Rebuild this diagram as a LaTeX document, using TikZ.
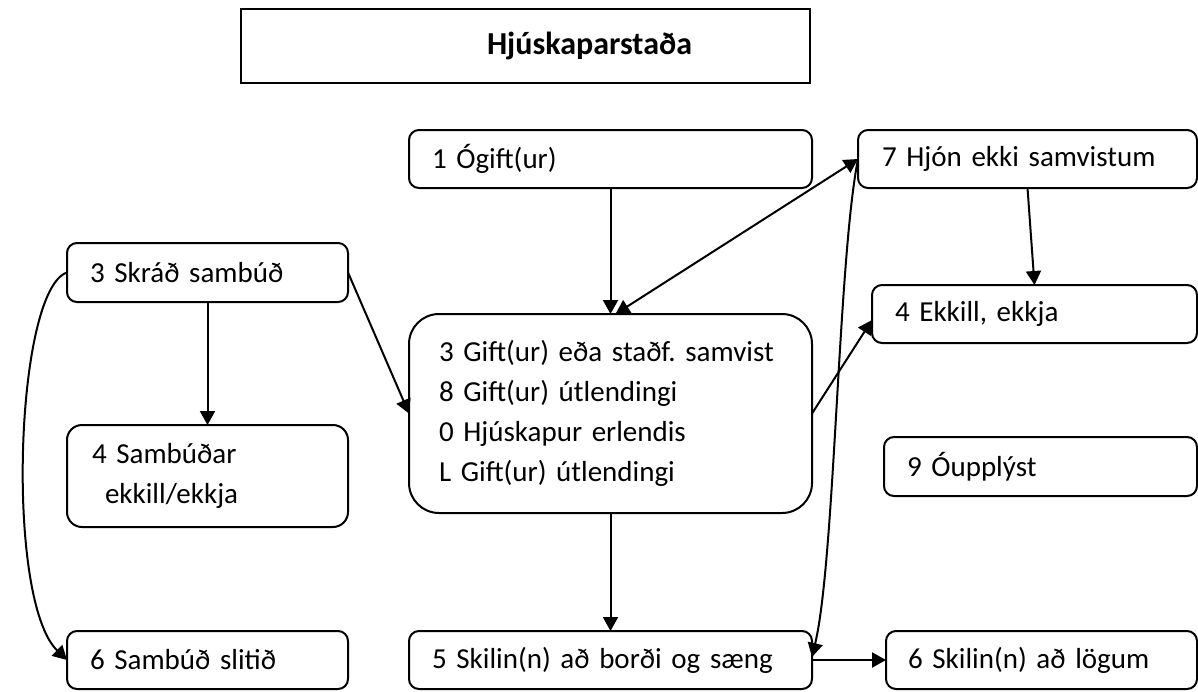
\documentclass[tikz,border=0pt]{standalone}
\usepackage{fontspec}
\setmainfont{Carlito}
\usetikzlibrary{arrows.meta,calc}
\frenchspacing
\begin{document}
\begin{tikzpicture}[x=1pt,y=-1pt,
  box/.style={draw, line width=2pt, rounded corners=10pt, anchor=north west,
    outer sep=0pt, inner ysep=0pt, align=left, font=\fontsize{29}{40}\selectfont},
  arr/.style={line width=2pt, -{Triangle[length=14pt,width=15pt]}},
  darr/.style={line width=2pt, {Triangle[length=14pt,width=15pt]}-{Triangle[length=14pt,width=15pt]}}
]
\useasboundingbox (0,0) rectangle (1198,691);

\node[draw, line width=2pt, anchor=north west, outer sep=0pt, minimum width=569pt,
  minimum height=74pt, text width=549pt, inner xsep=10pt, inner ysep=0pt, align=left,
  font=\fontsize{32}{38}\selectfont\bfseries] (title) at (241,9) {\hspace*{236pt}Hjúskaparstaða};

\node[box, minimum width=403pt, minimum height=58pt, text width=357pt, inner xsep=23pt] (b1) at (409,130) {1 Ógift(ur)};
\node[box, minimum width=339pt, minimum height=58pt, text width=291pt, inner xsep=24pt] (b7) at (858,130) {7 Hjón ekki samvistum};
\node[box, minimum width=281pt, minimum height=59pt, text width=235pt, inner xsep=23pt] (b3s) at (67,243) {3 Skráð sambúð};
\node[box, minimum width=325pt, minimum height=58pt, text width=279pt, inner xsep=23pt] (b4e) at (872,285) {4 Ekkill, ekkja};
\node[box, rounded corners=30pt, minimum width=403pt, minimum height=199pt, text width=343pt, inner xsep=30pt] (mid) at (409,314)
  {3 Gift(ur) eða staðf. samvist\\8 Gift(ur) útlendingi\\0 Hjúskapur erlendis\\L Gift(ur) útlendingi};
\node[box, rounded corners=15pt, minimum width=281pt, minimum height=102pt, text width=231pt, inner xsep=25pt] (b4s) at (67,425)
  {4 Sambúðar\\\hspace*{13pt}ekkill/ekkja};
\node[box, minimum width=313pt, minimum height=59pt, text width=267pt, inner xsep=23pt] (b9) at (884,437) {9 Óupplýst};
\node[box, minimum width=281pt, minimum height=58pt, text width=235pt, inner xsep=23pt] (b6s) at (67,631) {6 Sambúð slitið};
\node[box, minimum width=403pt, minimum height=58pt, text width=357pt, inner xsep=23pt] (b5) at (409,631) {5 Skilin(n) að borði og sæng};
\node[box, minimum width=311pt, minimum height=58pt, text width=267pt, inner xsep=22pt] (b6l) at (886,631) {6 Skilin(n) að lögum};

\coordinate (m1) at ($(mid.north)+(5,0)$);
\coordinate (e1) at ($(b4e.west)+(0,6)$);
\coordinate (s5) at ($(b5.east)+(0,-3)$);

\draw[arr] (b1.south) -- (mid.north);
\draw[darr] (m1) -- (b7.west);
\draw[arr] (b3s.east) -- (mid.west);
\draw[arr] (b3s.south) -- (b4s.north);
\draw[arr] (b3s.west) .. controls (15,290) and (5,600) .. (b6s.west);
\draw[arr] (mid.east) -- (e1);
\draw[arr] (b7.south) -- (b4e.north);
\draw[arr] (mid.south) -- (b5.north);
\draw[arr] (b5.east) -- (b6l.west);
\draw[arr] (b7.west) .. controls (838,260) and (835,560) .. (s5);
\end{tikzpicture}
\end{document}
